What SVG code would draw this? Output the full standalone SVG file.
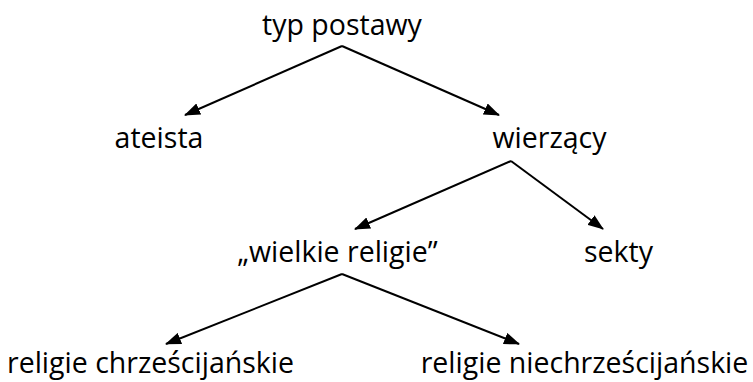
<svg xmlns="http://www.w3.org/2000/svg" width="753" height="382" viewBox="0 0 753 382">
<defs>
<marker id="ah" markerWidth="16" markerHeight="12" refX="15" refY="6" orient="auto" markerUnits="userSpaceOnUse">
<path d="M0,0 L16,6 L0,12 Z" fill="#000"/>
</marker>
<style>
text{font-family:"Open Sans","Noto Sans",sans-serif;font-size:28.5px;fill:#000;text-anchor:middle}
.c{stroke:#000;stroke-width:2;fill:none;marker-end:url(#ah)}
</style>
</defs>
<rect width="753" height="382" fill="#fff"/>
<g id="connectors">
<line class="c" x1="342" y1="46" x2="185" y2="115"/>
<line class="c" x1="342" y1="46" x2="499" y2="115"/>
<line class="c" x1="511" y1="161" x2="355" y2="229"/>
<line class="c" x1="511" y1="161" x2="603" y2="229"/>
<line class="c" x1="342" y1="274" x2="166" y2="344"/>
<line class="c" x1="342" y1="274" x2="519" y2="344"/>
</g>
<g id="n1"><text x="342" y="35">typ postawy</text></g>
<g id="n2"><text x="159" y="148">ateista</text></g>
<g id="n3"><text x="549.5" y="148">wierzący</text></g>
<g id="n4"><text x="337.5" y="262">„wielkie religie”</text></g>
<g id="n5"><text x="618.5" y="262">sekty</text></g>
<g id="n6"><text x="150.5" y="373">religie chrześcijańskie</text></g>
<g id="n7"><text x="584.5" y="373">religie niechrześcijańskie</text></g>
</svg>
